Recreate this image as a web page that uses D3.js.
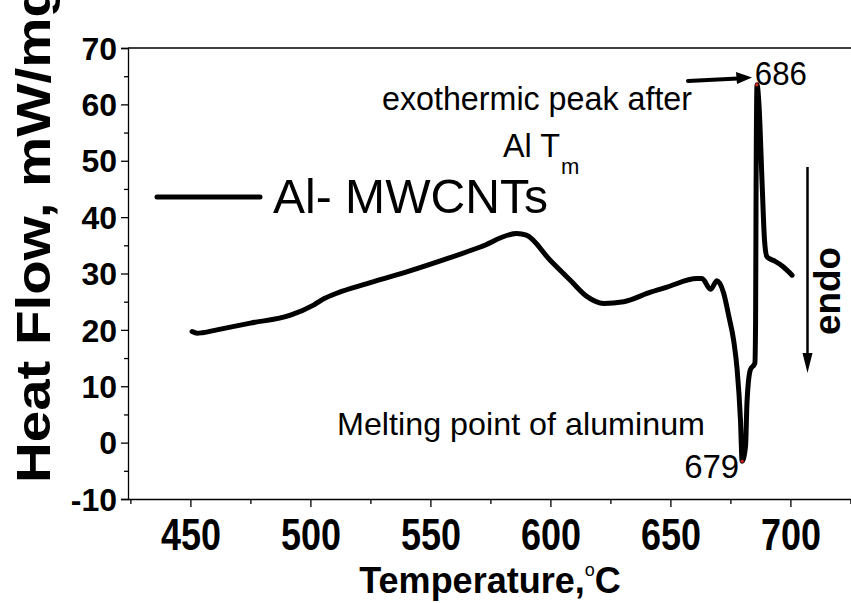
<!DOCTYPE html>
<html>
<head>
<meta charset="utf-8">
<script src="https://cdn.jsdelivr.net/npm/d3@7"></script>
<style>
  html, body { margin: 0; padding: 0; background: #fff; }
  svg { display: block; font-family: "Liberation Sans", Arial, sans-serif; }
</style>
</head>
<body>
<svg id="chart" width="851" height="603"></svg>
<script>
// ---- data ----
const temperature = [450.7, 452.9, 455.0, 461.0, 475.0, 491.7, 501.3, 506.0, 511.0, 523.6, 538.8,
  555.4, 570.8, 586.0, 590.0, 600.0, 608.3, 615.3, 622.2, 630.5, 641.7,
  648.6, 661.1, 663.2, 666.7, 669.4, 672.2, 674.3, 676.4, 677.8, 679.2,
  679.9, 681.3, 681.9, 683.3, 685.2, 685.5, 685.7, 686.1, 686.9, 688.3,
  689.2, 690.2, 691.5, 693.5, 697.0, 700.7];
const heatFlow = [19.7, 19.4, 19.5, 20.0, 21.2, 22.6, 24.4, 25.6, 26.5, 28.2, 30.1,
  32.4, 34.7, 37.1, 36.8, 32.3, 28.8, 25.9, 24.7, 25.0, 26.7,
  27.6, 29.1, 29.1, 27.2, 28.7, 26.5, 22.5, 18.0, 13.0, 4.0,
  -3.3, -0.7, 7.0, 12.9, 14.1, 21.7, 45.0, 63.5, 60.0, 45.0,
  36.0, 33.0, 32.6, 32.2, 31.2, 29.7];
const xTicks = [450, 500, 550, 600, 650, 700];
const xMinorTicks = [425, 475, 525, 575, 625, 675, 725];
const yTicks = [-10, 0, 10, 20, 30, 40, 50, 60, 70];
const yMinorTicks = [-5, 5, 15, 25, 35, 45, 55, 65];
const seriesName = "Al- MWCNTs";
const peakPoints = [[686.0, 63.5], [679.9, -3.3]];
const peakLabels = ["686", "679"];

// ---- layout ----
const svg = d3.select("#chart");
const mLeft = 128, mRight = 852.8, mTop = 48, mBottom = 499;
const x = d3.scaleLinear().domain([424, 726]).range([mLeft, mRight]);
const y = d3.scaleLinear().domain([-10, 70]).range([mBottom, mTop]);
const font = '"Liberation Sans", Arial, sans-serif';

// frame: top line (right side is cropped in the reference)
svg.append("line").attr("x1", mLeft).attr("x2", 851).attr("y1", mTop).attr("y2", mTop)
  .attr("stroke", "#000").attr("stroke-width", 1.3);

// axes
const xAxis = svg.append("g").attr("transform", `translate(0,${mBottom})`)
  .call(d3.axisBottom(x).tickValues(xTicks).tickSize(8).tickFormat(d => String(d)));
const xMinor = svg.append("g").attr("transform", `translate(0,${mBottom})`)
  .call(d3.axisBottom(x).tickValues(xMinorTicks).tickSize(5).tickFormat(""));
const yAxis = svg.append("g").attr("transform", `translate(${mLeft},0)`)
  .call(d3.axisLeft(y).tickValues(yTicks).tickSize(7).tickFormat(d => String(d)));
const yMinor = svg.append("g").attr("transform", `translate(${mLeft},0)`)
  .call(d3.axisLeft(y).tickValues(yMinorTicks).tickSize(4).tickFormat(""));

[xAxis, xMinor, yAxis, yMinor].forEach(g => {
  g.select(".domain").attr("stroke", "#000").attr("stroke-width", 1.3);
  g.selectAll(".tick line").attr("stroke", "#000").attr("stroke-width", 1.3);
});
xMinor.select(".domain").remove();
yMinor.select(".domain").remove();
xAxis.select(".domain").attr("d", `M${mLeft},0.5H851`);

xAxis.selectAll(".tick text")
  .attr("y", 51).attr("dy", 0)
  .attr("font-family", font).attr("font-size", 44).attr("font-weight", "bold")
  .attr("fill", "#000")
  .attr("textLength", 60).attr("lengthAdjust", "spacingAndGlyphs");

yAxis.selectAll(".tick text")
  .attr("x", -11).attr("dy", "0.35em")
  .attr("font-family", font).attr("font-size", 32).attr("font-weight", "bold")
  .attr("fill", "#000");

// axis titles
const xt = svg.append("text")
  .attr("x", 490).attr("y", 593).attr("text-anchor", "middle")
  .attr("font-family", font).attr("font-size", 36).attr("font-weight", "bold");
xt.append("tspan").text("Temperature,");
xt.append("tspan").attr("font-size", 18).attr("dy", -17).attr("font-weight", "normal").text("o");
xt.append("tspan").attr("dy", 17).text("C");

svg.append("text")
  .attr("transform", "translate(50,483) rotate(-90)")
  .attr("font-family", font).attr("font-size", 49).attr("font-weight", "bold")
  .attr("textLength", 500).attr("lengthAdjust", "spacingAndGlyphs")
  .text("Heat Flow, mW/mg");

// data line
const pts = temperature.map((t, i) => [t, heatFlow[i]]);
const line = d3.line().curve(d3.curveMonotoneX).x(d => x(d[0])).y(d => y(d[1]));
svg.append("path").datum(pts).attr("d", line)
  .attr("fill", "none").attr("stroke", "#000").attr("stroke-width", 5)
  .attr("stroke-linejoin", "round").attr("stroke-linecap", "round");

// red markers at peaks
svg.selectAll("circle.pk").data(peakPoints).enter().append("circle")
  .attr("class", "pk")
  .attr("cx", d => x(d[0])).attr("cy", d => y(d[1])).attr("r", 1.6)
  .attr("fill", "#d22");

// legend
svg.append("line").attr("x1", 157).attr("x2", 260).attr("y1", 197).attr("y2", 197)
  .attr("stroke", "#000").attr("stroke-width", 5).attr("stroke-linecap", "round");
svg.append("text").attr("x", 273).attr("y", 213)
  .attr("font-family", font).attr("font-size", 48)
  .attr("textLength", 275).attr("lengthAdjust", "spacingAndGlyphs")
  .text(seriesName);

// annotations
svg.append("text").attr("x", 382).attr("y", 110)
  .attr("font-family", font).attr("font-size", 34)
  .attr("textLength", 310).attr("lengthAdjust", "spacingAndGlyphs")
  .text("exothermic peak after");
svg.append("text").attr("x", 503).attr("y", 157)
  .attr("font-family", font).attr("font-size", 34)
  .attr("textLength", 57).attr("lengthAdjust", "spacingAndGlyphs")
  .text("Al T");
svg.append("text").attr("x", 561).attr("y", 174)
  .attr("font-family", font).attr("font-size", 22).text("m");
svg.append("text").attr("x", 337).attr("y", 435)
  .attr("font-family", font).attr("font-size", 32)
  .attr("textLength", 368).attr("lengthAdjust", "spacingAndGlyphs")
  .text("Melting point of aluminum");

// peak value labels
svg.append("text").attr("x", x(peakPoints[0][0]) - 2).attr("y", 85)
  .attr("font-family", font).attr("font-size", 34)
  .attr("textLength", 52).attr("lengthAdjust", "spacingAndGlyphs")
  .text(peakLabels[0]);
svg.append("text").attr("x", x(peakPoints[1][0]) - 3).attr("y", 478)
  .attr("text-anchor", "end")
  .attr("font-family", font).attr("font-size", 34)
  .attr("textLength", 55).attr("lengthAdjust", "spacingAndGlyphs")
  .text(peakLabels[1]);

// arrow to 686
svg.append("line").attr("x1", 688).attr("y1", 81).attr("x2", 738).attr("y2", 78.5)
  .attr("stroke", "#000").attr("stroke-width", 4).attr("stroke-linecap", "round");
svg.append("path").attr("d", "M752,77.5 L736,72 L737,84 Z").attr("fill", "#000");

// endo arrow
svg.append("line").attr("x1", 807.5).attr("y1", 167).attr("x2", 807.5).attr("y2", 356)
  .attr("stroke", "#000").attr("stroke-width", 2.5);
svg.append("path").attr("d", "M807.5,373 L802.5,353 L812.5,353 Z").attr("fill", "#000");
svg.append("text")
  .attr("transform", "translate(840,335) rotate(-90)")
  .attr("font-family", font).attr("font-size", 37).attr("font-weight", "bold")
  .attr("textLength", 88).attr("lengthAdjust", "spacingAndGlyphs")
  .text("endo");
</script>
</body>
</html>
